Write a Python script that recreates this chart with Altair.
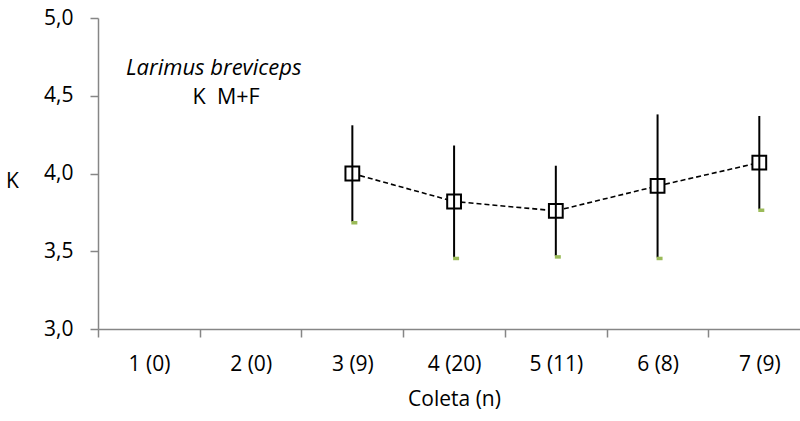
import altair as alt
import pandas as pd

# Collection labels with sample size, and condition factor K (mean and SD)
categories = ["1 (0)", "2 (0)", "3 (9)", "4 (20)", "5 (11)", "6 (8)", "7 (9)"]
coleta = [3, 4, 5, 6, 7]
k_mean = [4.00, 3.82, 3.76, 3.92, 4.07]
k_sd = [0.31, 0.36, 0.29, 0.46, 0.30]

y_ticks = [3.0, 3.5, 4.0, 4.5, 5.0]

df = pd.DataFrame({"coleta": coleta, "k": k_mean, "sd": k_sd})
df["lo"] = df["k"] - df["sd"]
df["hi"] = df["k"] + df["sd"]

FONT = "Open Sans"
AXIS_GREY = "#868686"
FS = 21

cat_expr = "[" + ",".join("'%s'" % c for c in categories) + "][floor(datum.value)]"

x_enc = alt.X(
    "coleta:Q",
    scale=alt.Scale(domain=[0.5, 7.4], nice=False, zero=False),
    axis=alt.Axis(
        values=[0.5 + i for i in range(len(categories))],
        labelExpr=cat_expr,
        labelOffset=50.9,
        labelAlign="center",
        labelBaseline="middle",
        labelPadding=27,
        labelOverlap=False,
        labelFlush=False,
        tickSize=8,
        title="Coleta (n)",
        titleX=356,
        titleY=70,
        titleBaseline="middle",
        titleAlign="center",
        grid=False,
    ),
)

y_enc = alt.Y(
    "k:Q",
    scale=alt.Scale(domain=[3, 5], nice=False, zero=False),
    axis=alt.Axis(
        values=y_ticks,
        labelExpr="replace(format(datum.value, '.1f'), '.', ',')",
        labelPadding=17,
        tickSize=8,
        title="K",
        titleAngle=0,
        titleX=-86,
        titleY=163,
        titleAlign="center",
        titleBaseline="middle",
        grid=False,
    ),
)

base = alt.Chart(df)

line = base.mark_line(color="black", strokeDash=[5, 3], strokeWidth=1.6).encode(x=x_enc, y=y_enc)

squares = base.mark_point(
    shape="square", size=190, filled=False, fill="white", fillOpacity=1,
    stroke="black", strokeWidth=2, opacity=1,
).encode(x="coleta:Q", y="k:Q")

bars = base.mark_rule(color="black", strokeWidth=2).encode(x="coleta:Q", y="lo:Q", y2="hi:Q")

low_marks = base.mark_tick(
    color="#9bbb59", orient="horizontal", size=6, thickness=3.5, xOffset=2, yOffset=1, opacity=1
).encode(x="coleta:Q", y="lo:Q")

notes = pd.DataFrame({
    "x": [0.775, 1.43],
    "y": [4.68, 4.485],
    "txt": ["Larimus breviceps", "K\u00a0\u00a0M+F"],
})
species = alt.Chart(notes.iloc[[0]]).mark_text(
    font=FONT, fontSize=22, fontStyle="italic", align="left", baseline="middle", color="black"
).encode(x="x:Q", y="y:Q", text="txt:N")
group = alt.Chart(notes.iloc[[1]]).mark_text(
    font=FONT, fontSize=21.5, align="left", baseline="middle", color="black"
).encode(x="x:Q", y="y:Q", text="txt:N")

chart = (
    alt.layer(line, squares, bars, low_marks, species, group)
    .properties(
        width=702,
        height=311,
        autosize=alt.AutoSizeParams(type="none"),
        padding={"left": 98, "top": 18, "right": 0, "bottom": 92},
        background="white",
    )
    .configure_view(stroke=None)
    .configure_axis(
        domainColor=AXIS_GREY,
        domainWidth=1.5,
        tickColor=AXIS_GREY,
        tickWidth=1.5,
        labelFont=FONT,
        labelFontSize=FS,
        labelColor="black",
        titleFont=FONT,
        titleFontSize=FS,
        titleFontWeight="normal",
        titleColor="black",
    )
)

chart.save("out.html", embed_options={"renderer": "svg", "actions": False})
